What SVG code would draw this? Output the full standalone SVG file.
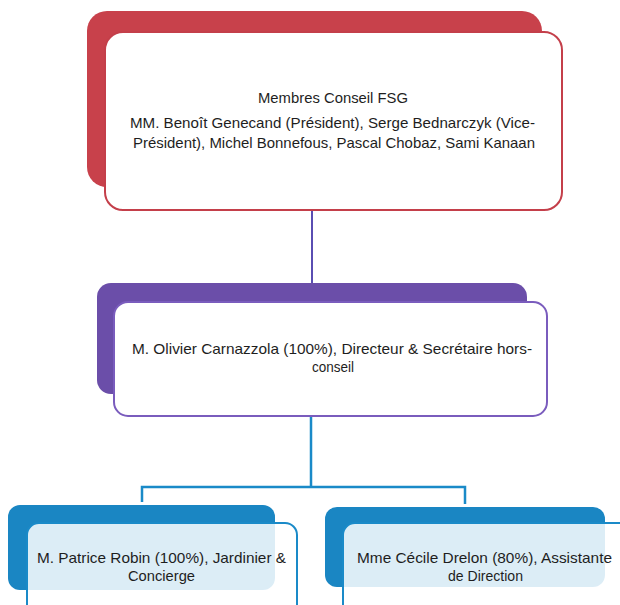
<svg xmlns="http://www.w3.org/2000/svg" width="620" height="605" viewBox="0 0 620 605">
<style>
text{font-family:"Liberation Sans",Arial,sans-serif;font-size:15px;fill:#1e1e1e;text-anchor:middle}
.redb{fill:#c8414b}
.redf{fill:#fff;stroke:#c43f4a;stroke-width:2}
.purb{fill:#6b4ea9}
.purf{fill:#fff;stroke:#7a5cbd;stroke-width:2}
.blub{fill:#1a86c3}
.bluf{fill:#fff;fill-opacity:0.85;stroke:#1a8ac8;stroke-width:2}
.c1{fill:none;stroke:#5a4db2;stroke-width:2}
.c2{fill:none;stroke:#1a8ac8;stroke-width:2.5}
</style>
<rect width="620" height="605" fill="#fff"/>
<g id="connectors">
<path class="c1" d="M312 210V283"/>
<path class="c2" d="M311 416V487M142 502V487H465V504"/>
</g>
<g id="conseil">
<rect class="redb" x="87" y="11" width="455" height="176" rx="20"/>
<rect class="redf" x="105" y="32" width="457" height="178" rx="18"/>
<text x="333" y="103" textLength="150" lengthAdjust="spacingAndGlyphs">Membres Conseil FSG</text>
<text x="332.5" y="128" textLength="405" lengthAdjust="spacingAndGlyphs">MM. Benoît Genecand (Président), Serge Bednarczyk (Vice-</text>
<text x="334" y="148" textLength="402" lengthAdjust="spacingAndGlyphs">Président), Michel Bonnefous, Pascal Chobaz, Sami Kanaan</text>
</g>
<g id="directeur">
<rect class="purb" x="97" y="283" width="430" height="111" rx="14"/>
<rect class="purf" x="114" y="302" width="433" height="114" rx="14"/>
<text x="332" y="354" textLength="400" lengthAdjust="spacingAndGlyphs">M. Olivier Carnazzola (100%), Directeur &amp; Secrétaire hors-</text>
<text x="333" y="372" textLength="42" lengthAdjust="spacingAndGlyphs">conseil</text>
</g>
<g id="jardinier">
<rect class="blub" x="8" y="505" width="267" height="85" rx="12"/>
<rect class="bluf" x="27" y="523" width="270" height="100" rx="12"/>
<text x="161.5" y="563" textLength="249" lengthAdjust="spacingAndGlyphs">M. Patrice Robin (100%), Jardinier &amp;</text>
<text x="161.5" y="581" textLength="67" lengthAdjust="spacingAndGlyphs">Concierge</text>
</g>
<g id="assistante">
<rect class="blub" x="325" y="507" width="280" height="80" rx="12"/>
<rect class="bluf" x="343" y="523" width="290" height="100" rx="12"/>
<text x="484.5" y="563" textLength="255" lengthAdjust="spacingAndGlyphs">Mme Cécile Drelon (80%), Assistante</text>
<text x="485.5" y="581" textLength="75" lengthAdjust="spacingAndGlyphs">de Direction</text>
</g>
</svg>
